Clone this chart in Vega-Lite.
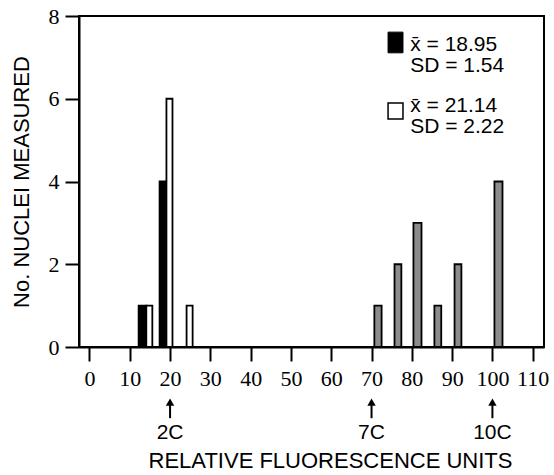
{
  "$schema": "https://vega.github.io/schema/vega-lite/v6.json",
  "autosize": {"type": "none"},
  "padding": {"left": 79, "top": 16, "right": 10, "bottom": 128},
  "width": 465,
  "height": 331,
  "background": "white",
  "config": {
    "view": {"stroke": "black", "strokeWidth": 2},
    "axis": {
      "grid": false,
      "domainColor": "black",
      "domainWidth": 2,
      "tickColor": "black",
      "tickWidth": 2,
      "tickSize": 14,
      "labelFont": "Liberation Serif",
      "labelFontSize": 22,
      "labelColor": "black",
      "titleFont": "Liberation Sans",
      "titleFontWeight": "normal",
      "titleColor": "black"
    }
  },
  "datasets": {
    "bars": [
      {"start": 12.2, "end": 14.1, "count": 1, "group": "solid"},
      {"start": 17.4, "end": 19.1, "count": 4, "group": "solid"},
      {"start": 14.1, "end": 15.6, "count": 1, "group": "open"},
      {"start": 19.1, "end": 20.6, "count": 6, "group": "open"},
      {"start": 24.1, "end": 25.6, "count": 1, "group": "open"},
      {"start": 70.7, "end": 72.5, "count": 1, "group": "hatched"},
      {"start": 75.7, "end": 77.4, "count": 2, "group": "hatched"},
      {"start": 80.4, "end": 82.4, "count": 3, "group": "hatched"},
      {"start": 85.6, "end": 87.3, "count": 1, "group": "hatched"},
      {"start": 90.6, "end": 92.3, "count": 2, "group": "hatched"},
      {"start": 100.5, "end": 102.5, "count": 4, "group": "hatched"}
    ],
    "ploidy": [
      {"value": 20, "label": "2C"},
      {"value": 70, "label": "7C"},
      {"value": 100, "label": "10C"}
    ]
  },
  "layer": [
    {
      "data": {"name": "bars"},
      "mark": {"type": "bar", "stroke": "black", "strokeWidth": 1.8},
      "encoding": {
        "x": {
          "field": "start", "type": "quantitative",
          "scale": {"domain": [-2.6, 112.8], "nice": false, "zero": false},
          "axis": {
            "values": [0, 10, 20, 30, 40, 50, 60, 70, 80, 90, 100, 110],
            "labelPadding": 7,
            "title": "RELATIVE FLUORESCENCE UNITS",
            "titleFontSize": 22,
            "titlePadding": 61,
            "titleX": 251
          }
        },
        "x2": {"field": "end"},
        "y": {
          "field": "count", "type": "quantitative",
          "scale": {"domain": [0, 8], "nice": false},
          "axis": {
            "values": [0, 2, 4, 6, 8],
            "labelPadding": 6,
            "title": "No. NUCLEI MEASURED",
            "titleFontSize": 22,
            "titlePadding": 15
          }
        },
        "y2": {"datum": 0},
        "fill": {
          "field": "group", "type": "nominal",
          "scale": {"domain": ["solid", "open", "hatched"], "range": ["black", "white", "#8c8c8c"]},
          "legend": null
        }
      }
    },
    {
      "data": {"values": [{}]},
      "mark": {"type": "rect", "fill": "black", "stroke": "black", "strokeWidth": 1},
      "encoding": {
        "x": {"datum": 74.1, "type": "quantitative"},
        "x2": {"datum": 77.8},
        "y": {"datum": 7.61, "type": "quantitative"},
        "y2": {"datum": 7.11}
      }
    },
    {
      "data": {"values": [{}]},
      "mark": {"type": "rect", "fill": "white", "stroke": "black", "strokeWidth": 1.5},
      "encoding": {
        "x": {"datum": 74.1, "type": "quantitative"},
        "x2": {"datum": 77.8},
        "y": {"datum": 5.9, "type": "quantitative"},
        "y2": {"datum": 5.51}
      }
    },
    {
      "data": {"values": [{}]},
      "mark": {"type": "text", "text": ["x\u0304 = 18.95", "SD = 1.54"], "align": "left", "baseline": "middle", "lineHeight": 21, "font": "Liberation Sans", "fontSize": 21, "color": "black"},
      "encoding": {"x": {"datum": 79.6, "type": "quantitative"}, "y": {"datum": 7.3, "type": "quantitative"}}
    },
    {
      "data": {"values": [{}]},
      "mark": {"type": "text", "text": ["x\u0304 = 21.14", "SD = 2.22"], "align": "left", "baseline": "middle", "lineHeight": 21, "font": "Liberation Sans", "fontSize": 21, "color": "black"},
      "encoding": {"x": {"datum": 79.6, "type": "quantitative"}, "y": {"datum": 5.82, "type": "quantitative"}}
    },
    {
      "data": {"name": "ploidy"},
      "mark": {"type": "rule", "color": "black", "strokeWidth": 2},
      "encoding": {
        "x": {"field": "value", "type": "quantitative"},
        "y": {"datum": -1.4, "type": "quantitative"},
        "y2": {"datum": -1.72}
      }
    },
    {
      "data": {"name": "ploidy"},
      "mark": {"type": "point", "shape": "triangle-up", "filled": true, "color": "black", "opacity": 1, "size": 70},
      "encoding": {
        "x": {"field": "value", "type": "quantitative"},
        "y": {"datum": -1.33, "type": "quantitative"}
      }
    },
    {
      "data": {"name": "ploidy"},
      "mark": {"type": "text", "baseline": "middle", "align": "center", "font": "Liberation Sans", "fontSize": 21, "color": "black"},
      "encoding": {
        "x": {"field": "value", "type": "quantitative"},
        "y": {"datum": -2.08, "type": "quantitative"},
        "text": {"field": "label"}
      }
    }
  ]
}
